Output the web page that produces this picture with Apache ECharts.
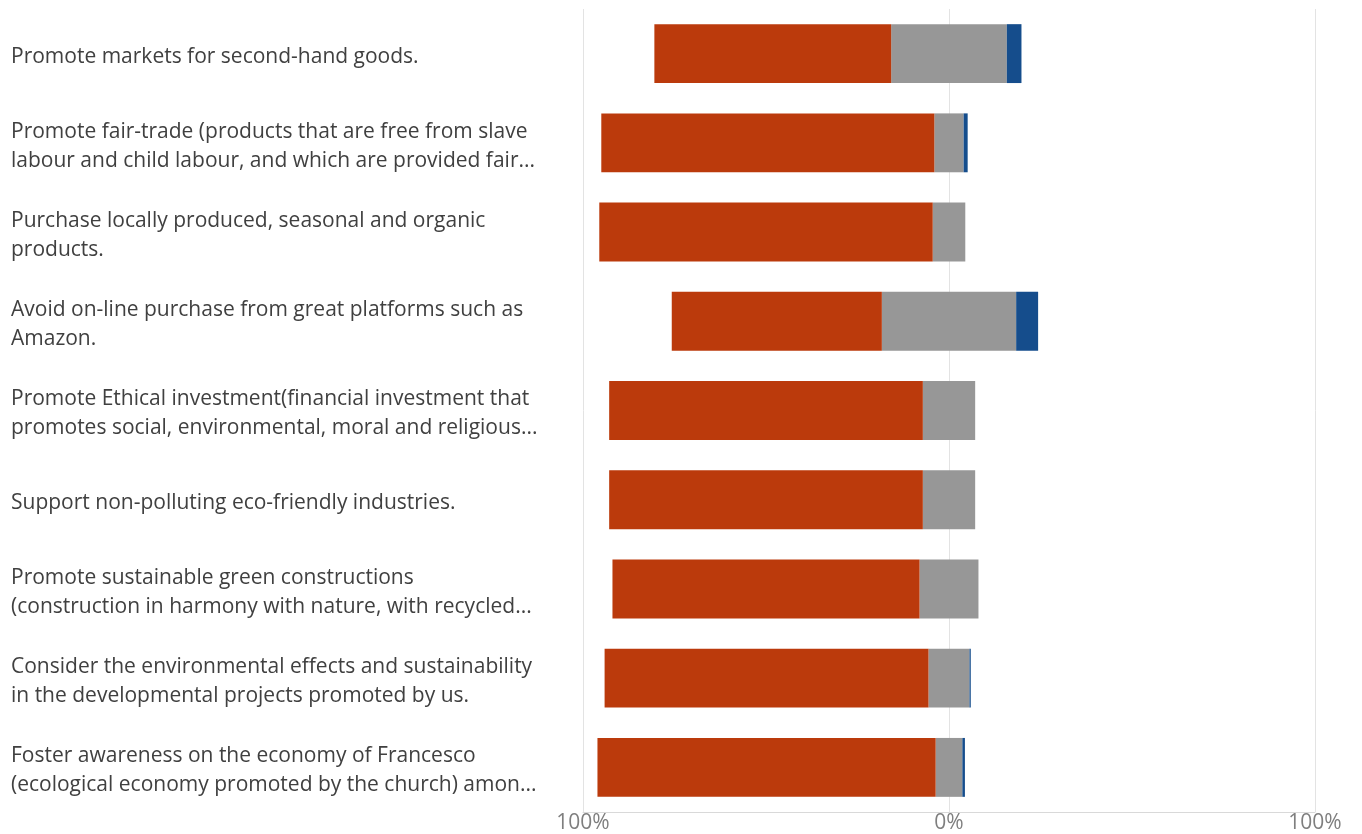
<!DOCTYPE html>
<html>
<head>
<meta charset="utf-8">
<script src="https://cdn.jsdelivr.net/npm/echarts@6/dist/echarts.min.js"></script>
<style>html,body{margin:0;padding:0;background:#fff;}#c{width:1362px;height:834px;}</style>
</head>
<body>
<div id="c"></div>
<script>
const categories = [
  "Promote markets for second-hand goods.",
  "Promote fair-trade (products that are free from slave\nlabour and child labour, and which are provided fair...",
  "Purchase locally produced, seasonal and organic\nproducts.",
  "Avoid on-line purchase from great platforms such as\nAmazon.",
  "Promote Ethical investment(financial investment that\npromotes social, environmental, moral and religious...",
  "Support non-polluting eco-friendly industries.",
  "Promote sustainable green constructions\n(construction in harmony with nature, with recycled...",
  "Consider the environmental effects and sustainability\nin the developmental projects promoted by us.",
  "Foster awareness on the economy of Francesco\n(ecological economy promoted by the church) amon..."
];
const agree    = [64.7, 91.0, 91.1, 57.4, 85.7, 85.7, 83.9, 88.5, 92.4];
const neutral  = [31.6,  8.0,  8.9, 36.7, 14.3, 14.3, 16.1, 11.2,  7.3];
const disagree = [ 4.0,  1.1,  0.0,  6.0,  0.0,  0.0,  0.0,  0.35, 0.7];
const xTicks = [-100, 0, 100];

const chart = echarts.init(document.getElementById('c'), null, {renderer: 'canvas'});
const FONT = '"Open Sans", "Noto Sans", sans-serif';
const barW = '66%';
chart.setOption({
  animation: false,
  backgroundColor: '#ffffff',
  grid: {left: 583, right: 47, top: 9, bottom: 22, containLabel: false},
  xAxis: {
    type: 'value', min: xTicks[0], max: xTicks[xTicks.length - 1], interval: 100,
    axisLine: {show: true, lineStyle: {color: '#d9d9d9', width: 1}},
    axisTick: {show: false},
    splitLine: {show: true, lineStyle: {color: '#e3e3e3', width: 1}},
    axisLabel: {
      formatter: v => Math.abs(v) + '%',
      color: '#7f7f7f', fontFamily: FONT, fontSize: 21, margin: 1
    }
  },
  yAxis: {
    type: 'category', data: categories, inverse: true,
    axisLine: {show: false}, axisTick: {show: false},
    axisLabel: {
      align: 'left', verticalAlign: 'middle', margin: 572, color: '#404040',
      fontFamily: FONT, fontSize: 21, lineHeight: 29,
      formatter: v => '{s| }\n' + v.split('\n').map(l => '{a|' + l + '}').join('\n'),
      rich: {
        s: {fontSize: 1, lineHeight: 7},
        a: {fontFamily: FONT, fontSize: 21, lineHeight: 29, color: '#404040'}
      }
    }
  },
  series: [
    {name: 'NeutralL', type: 'bar', stack: 't', barWidth: barW,
     itemStyle: {color: '#979797'}, data: neutral.map(v => -v / 2)},
    {name: 'Agree', type: 'bar', stack: 't', barWidth: barW,
     itemStyle: {color: '#bb3a0c'}, data: agree.map(v => -v)},
    {name: 'NeutralR', type: 'bar', stack: 't', barWidth: barW,
     itemStyle: {color: '#979797'}, data: neutral.map(v => v / 2)},
    {name: 'Disagree', type: 'bar', stack: 't', barWidth: barW,
     itemStyle: {color: '#154d8c'}, data: disagree.slice()}
  ]
});
</script>
</body>
</html>
